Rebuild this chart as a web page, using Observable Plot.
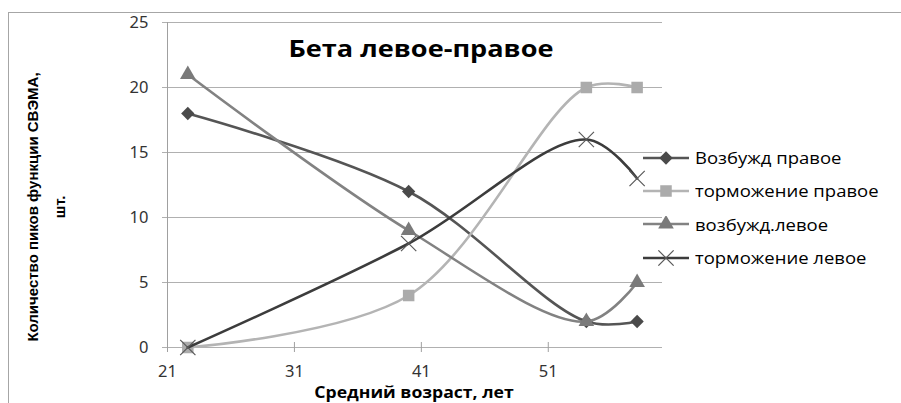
<!DOCTYPE html>
<html>
<head>
<meta charset="utf-8">
<script src="https://cdn.jsdelivr.net/npm/d3@7"></script>
<script src="https://cdn.jsdelivr.net/npm/@observablehq/plot@0.6"></script>
<style>
  html, body { margin: 0; padding: 0; background: #fff; }
  #wrap { position: relative; width: 901px; height: 403px; overflow: hidden; font-family: "Open Sans", "Liberation Sans", sans-serif; }
  #frame { position: absolute; left: 8px; top: 12px; width: 900px; height: 400px; border-left: 1px solid #a6a6a6; border-top: 1px solid #a6a6a6; }
  #chart { position: absolute; left: 0; top: 0; }
  .abs { position: absolute; white-space: nowrap; }
  #title { left: 421px; top: 47px; transform: translate(-50%, -50%) scaleX(1.13); font-weight: 700; font-size: 24px; color: #000; }
  #xtitle { left: 414px; top: 392px; transform: translate(-50%, -50%) scaleX(1.1); font-weight: 700; font-size: 16px; color: #000; }
  #ytitle { left: 46px; top: 207px; transform: translate(-50%, -50%) rotate(-90deg); font-family: "Liberation Sans Narrow", "Arial Narrow", "Liberation Sans", sans-serif; font-weight: 700; font-size: 15px; line-height: 27px; text-align: center; color: #000; }
  #legend { left: 643px; top: 141px; }
  .lrow { display: flex; align-items: center; height: 33.3px; }
  .lrow span { font-size: 16.5px; color: #000; margin-left: 4px; display: inline-block; transform-origin: left center; transform: scaleX(1.12); }
</style>
</head>
<body>
<div id="wrap">
  <div id="frame"></div>
  <div id="chart"></div>
  <div class="abs" id="title">Бета левое-правое</div>
  <div class="abs" id="xtitle">Средний возраст, лет</div>
  <div class="abs" id="ytitle">Количество пиков функции СВЭМА,<br>шт.</div>
  <div class="abs" id="legend"></div>
</div>
<script>
// ---- data ----
const ages = [22.6, 40, 54, 58];
const seriesNames = ["Возбужд правое", "торможение правое", "возбужд.левое", "торможение левое"];
const vozbPravoe = [18, 12, 2, 2];
const tormPravoe = [0, 4, 20, 20];
const vozbLevoe = [21, 9, 2, 5];
const tormLevoe = [0, 8, 16, 13];
const xTicks = [21, 31, 41, 51];
const yTicks = [0, 5, 10, 15, 20, 25];

// ---- styles ----
const lineColors = ["#555555", "#b4b4b4", "#828282", "#3c3c3c"];
const markColors = ["#4a4a4a", "#ababab", "#7a7a7a", "#5a5a5a"];
const symbols = ["diamond2", "square", "triangle", "times"];
const radii = [6, 6.5, 5.8, 7];

const valuesList = [vozbPravoe, tormPravoe, vozbLevoe, tormLevoe];
const series = seriesNames.map((name, i) => ({
  name,
  points: ages.map((a, j) => ({ age: a, value: valuesList[i][j] }))
}));

const marks = [
  Plot.ruleY(yTicks, { y: d => d, stroke: "#b0b0b0", strokeWidth: 1, insetLeft: -5 }),
  Plot.ruleX([21], { x: d => d, stroke: "#a0a0a0", strokeWidth: 1 }),
  Plot.ruleX(xTicks, { x: d => d, y1: 0, y2: 0, stroke: "#a0a0a0", insetTop: -5, insetBottom: -5 }),
  Plot.axisY(yTicks, { tickSize: 0, tickPadding: 19, fontSize: 16.5, fill: "#333", textAnchor: "end", label: null }),
  Plot.axisX(xTicks, { tickSize: 0, tickPadding: 18, fontSize: 16.5, fill: "#333", label: null })
];
series.forEach((s, i) => {
  marks.push(Plot.line(s.points, { x: "age", y: "value", stroke: lineColors[i], strokeWidth: 2.6, curve: "catmull-rom" }));
  if (symbols[i] === "times") {
    marks.push(Plot.dot(s.points, { x: "age", y: "value", symbol: "times", r: radii[i], stroke: markColors[i], strokeWidth: 1.2 }));
  } else {
    marks.push(Plot.dot(s.points, { x: "age", y: "value", symbol: symbols[i], r: radii[i], fill: markColors[i], stroke: "none" }));
  }
});

const chart = Plot.plot({
  width: 901,
  height: 403,
  marginLeft: 167,
  marginRight: 239,
  marginTop: 22,
  marginBottom: 56,
  x: { type: "linear", domain: [21, 60], axis: null, label: null },
  y: { type: "linear", domain: [0, 25], axis: null, label: null },
  style: { background: "transparent", overflow: "visible" },
  marks
});
document.getElementById("chart").appendChild(chart);

// ---- legend ----
const legend = document.getElementById("legend");
seriesNames.forEach((name, i) => {
  const row = document.createElement("div");
  row.className = "lrow";
  const ns = "http://www.w3.org/2000/svg";
  const svg = document.createElementNS(ns, "svg");
  svg.setAttribute("width", 48);
  svg.setAttribute("height", 16);
  const ln = document.createElementNS(ns, "line");
  ln.setAttribute("x1", 0); ln.setAttribute("x2", 46);
  ln.setAttribute("y1", 8); ln.setAttribute("y2", 8);
  ln.setAttribute("stroke", lineColors[i]);
  ln.setAttribute("stroke-width", 2.6);
  svg.appendChild(ln);
  const sym = { diamond2: d3.symbolDiamond2, square: d3.symbolSquare, triangle: d3.symbolTriangle, times: d3.symbolTimes }[symbols[i]];
  const p = document.createElementNS(ns, "path");
  p.setAttribute("d", d3.symbol(sym, Math.PI * radii[i] * radii[i])());
  p.setAttribute("transform", "translate(23,8)");
  if (symbols[i] === "times") { p.setAttribute("fill", "none"); p.setAttribute("stroke", markColors[i]); p.setAttribute("stroke-width", 1.2); }
  else { p.setAttribute("fill", markColors[i]); }
  svg.appendChild(p);
  row.appendChild(svg);
  const t = document.createElement("span");
  t.textContent = name;
  row.appendChild(t);
  legend.appendChild(row);
});
</script>
</body>
</html>
